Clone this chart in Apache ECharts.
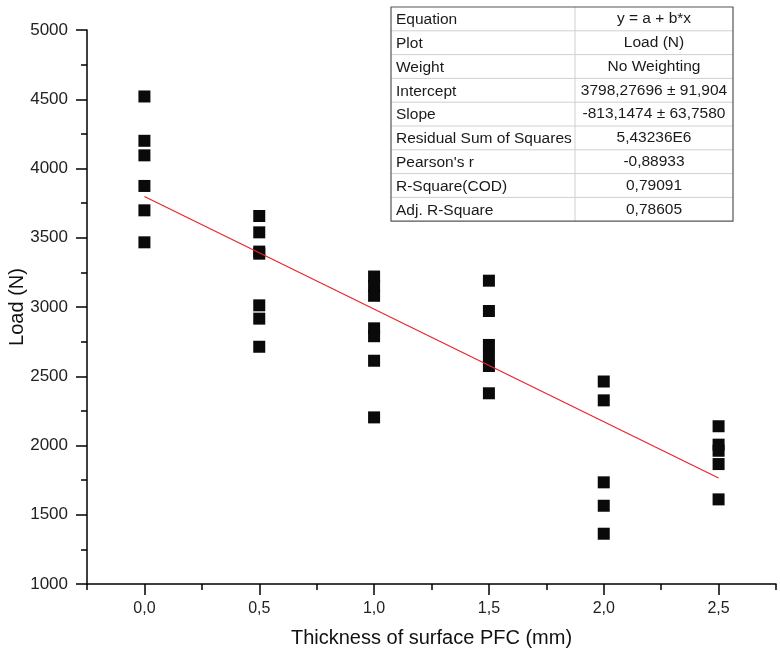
<!DOCTYPE html>
<html>
<head>
<meta charset="utf-8">
<script src="https://cdn.jsdelivr.net/npm/echarts@6/dist/echarts.min.js"></script>
<style>html,body{margin:0;padding:0;background:#fff}#c{width:780px;height:657px}</style>
</head>
<body>
<div id="c"></div>
<script>
// Data
const x00 = [4520, 4200, 4095, 3874, 3698, 3467];
const x05 = [3657, 3539, 3400, 3385, 3012, 2916, 2713];
const x10 = [3220, 3152, 3081, 2846, 2789, 2612, 2203];
const x15 = [3190, 2971, 2726, 2646, 2574, 2377];
const x20 = [2462, 2326, 1734, 1565, 1363];
const x25 = [2139, 2006, 1962, 1866, 1611];
const groupX = [0, 0.5, 1.0, 1.5, 2.0, 2.5];
const groupY = [x00, x05, x10, x15, x20, x25];
const regX = [0, 2.5];
const regY = [3798.28, 1765.41];
const xTicks = [0, 0.5, 1.0, 1.5, 2.0, 2.5];
const xMinorTicks = [-0.25, 0.25, 0.75, 1.25, 1.75, 2.25, 2.75];
const yMin = 1000, yMax = 5000, yStep = 500;
const xMin = -0.25, xMax = 2.75;
const tableLabels = ['Equation', 'Plot', 'Weight', 'Intercept', 'Slope', 'Residual Sum of Squares', "Pearson's r", 'R-Square(COD)', 'Adj. R-Square'];
const tableValues = ['y = a + b*x', 'Load (N)', 'No Weighting', '3798,27696 ± 91,904', '-813,1474 ± 63,7580', '5,43236E6', '-0,88933', '0,79091', '0,78605'];

const points = [];
groupX.forEach((gx, i) => groupY[i].forEach(v => points.push([gx, v])));
const regData = regX.map((v, i) => [v, regY[i]]);

const FONT = 'Liberation Sans, Arial, sans-serif';
const fmt = v => (Math.round(v * 10) / 10).toFixed(1).replace('.', ',');

// table graphic
const tX = 391, tY = 7, tW = 342, colX = 575, rowH = 23.8;
const tableEls = [];
tableLabels.forEach((lab, i) => {
  const y = tY + i * rowH;
  if (i > 0) tableEls.push({type: 'line', shape: {x1: tX, y1: y, x2: tX + tW, y2: y}, style: {stroke: '#d0d0d0', lineWidth: 1}});
  tableEls.push({type: 'text', x: tX + 5, y: y + rowH / 2 + 1, style: {text: lab, font: '15.5px ' + FONT, fill: '#1a1a1a', verticalAlign: 'middle', align: 'left'}});
  tableEls.push({type: 'text', x: (colX + tX + tW) / 2, y: y + rowH / 2, style: {text: tableValues[i], font: '15.5px ' + FONT, fill: '#1a1a1a', verticalAlign: 'middle', align: 'center'}});
});
tableEls.push({type: 'line', shape: {x1: colX, y1: tY, x2: colX, y2: tY + rowH * tableLabels.length}, style: {stroke: '#d0d0d0', lineWidth: 1}});
tableEls.push({type: 'rect', shape: {x: tX, y: tY, width: tW, height: rowH * tableLabels.length}, style: {fill: 'none', stroke: '#555', lineWidth: 1.2}});

const chart = echarts.init(document.getElementById('c'), null, {renderer: 'canvas'});
chart.setOption({
  animation: false,
  backgroundColor: '#fff',
  grid: {left: 87, right: 4, top: 30, bottom: 73, containLabel: false, outerBoundsMode: 'none'},
  xAxis: [{
    type: 'value', min: xMin, max: xMax,
    name: 'Thickness of surface PFC (mm)', nameLocation: 'middle', nameGap: 44, nameMoveOverlap: false,
    nameTextStyle: {fontFamily: FONT, fontSize: 20, color: '#111'},
    axisLine: {show: true, onZero: false, lineStyle: {color: '#000', width: 1.5}},
    axisTick: {show: true, inside: false, length: 11, lineStyle: {color: '#000', width: 1.5}, customValues: xTicks},
    axisLabel: {show: true, margin: 17, fontFamily: FONT, fontSize: 16, color: '#222', customValues: xTicks, formatter: fmt},
    splitLine: {show: false}
  }, {
    type: 'value', min: xMin, max: xMax, position: 'bottom',
    axisLine: {show: false, onZero: false},
    axisTick: {show: true, length: 6, lineStyle: {color: '#000', width: 1.5}, customValues: xMinorTicks},
    axisLabel: {show: false},
    splitLine: {show: false}
  }],
  yAxis: {
    type: 'value', min: yMin, max: yMax, interval: yStep,
    name: 'Load (N)', nameLocation: 'middle', nameGap: 60, nameRotate: 90, nameMoveOverlap: false,
    nameTextStyle: {fontFamily: FONT, fontSize: 20, color: '#111'},
    axisLine: {show: true, onZero: false, lineStyle: {color: '#000', width: 1.5}},
    axisTick: {show: true, length: 11, lineStyle: {color: '#000', width: 1.5}},
    minorTick: {show: true, splitNumber: 2, length: 6, lineStyle: {color: '#000', width: 1.5}},
    axisLabel: {margin: 19, fontFamily: FONT, fontSize: 17, color: '#222', formatter: v => String(v)},
    splitLine: {show: false}
  },
  series: [{
    type: 'scatter', data: points, symbol: 'rect', symbolSize: 12,
    itemStyle: {color: '#0a0a0a', opacity: 1}, z: 3
  }, {
    type: 'line', data: regData, symbol: 'none', showSymbol: false,
    lineStyle: {color: '#e8252a', width: 1.2}, z: 4
  }],
  graphic: [{type: 'group', children: tableEls, z: 10}]
});
</script>
</body>
</html>
